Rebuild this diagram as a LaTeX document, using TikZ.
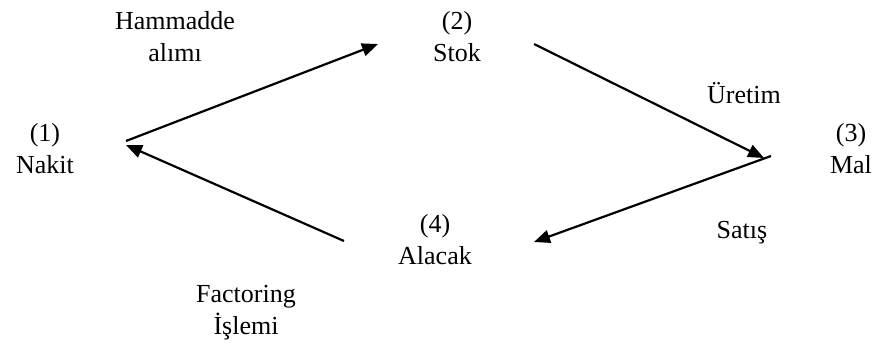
\documentclass[tikz,border=0pt]{standalone}
\usepackage{fontspec}
\setmainfont{Liberation Serif}
\usetikzlibrary{arrows.meta}
\begin{document}
\begin{tikzpicture}[x=1pt,y=-1pt,
  lbl/.style={font=\fontsize{26}{32}\selectfont, align=center, anchor=base, inner sep=0pt},
  flow/.style={line width=2.2pt, -{Triangle[length=16pt,width=13pt]}}]
  \useasboundingbox (0,0) rectangle (877,347);
  % states of the cycle (anchored at the baseline of the last line)
  \node[lbl] (nakit)  at (45,174)  {(1)\\Nakit};
  \node[lbl] (stok)   at (457,62)  {(2)\\Stok};
  \node[lbl] (mal)    at (851,174) {(3)\\Mal};
  \node[lbl] (alacak) at (435,264) {(4)\\Alacak};
  % transition labels
  \node[lbl] (alim)   at (175,62)  {Hammadde\\alımı};
  \node[lbl] (uret)   at (744,104) {Üretim};
  \node[lbl] (satis)  at (742,238) {Satış};
  \node[lbl] (fact)   at (246,334) {Factoring\\İşlemi};
  % arrow end points
  \coordinate (p1s) at (126,141);
  \coordinate (p1e) at (378,44);
  \coordinate (p2s) at (534,44);
  \coordinate (p2e) at (764,158);
  \coordinate (p3s) at (771,156);
  \coordinate (p3e) at (534,242);
  \coordinate (p4s) at (344,241);
  \coordinate (p4e) at (126,145);
  \draw[flow] (p1s) -- (p1e);
  \draw[flow] (p2s) -- (p2e);
  \draw[flow] (p3s) -- (p3e);
  \draw[flow] (p4s) -- (p4e);
\end{tikzpicture}
\end{document}
